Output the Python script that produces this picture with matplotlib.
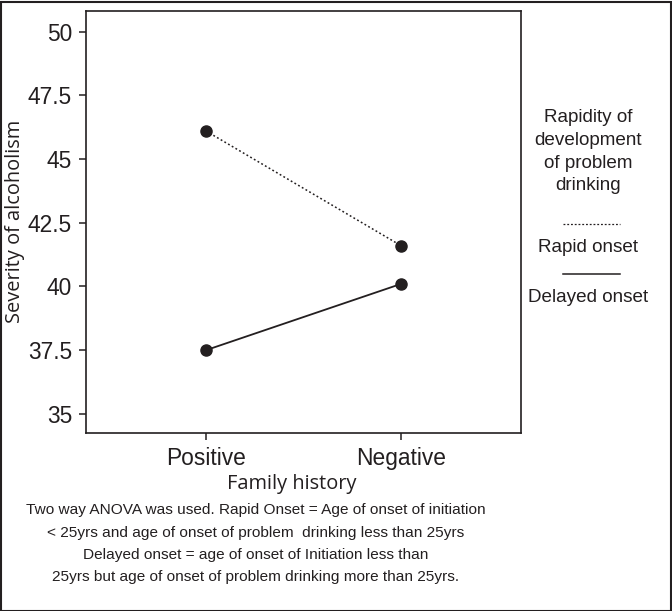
import matplotlib
matplotlib.use("Agg")
import matplotlib.pyplot as plt
from matplotlib.lines import Line2D
from matplotlib.patches import Rectangle

categories = ["Positive", "Negative"]
rapid_onset = [46.1, 41.6]
delayed_onset = [37.5, 40.1]
yticks = [35, 37.5, 40, 42.5, 45, 47.5, 50]
ytick_labels = ["35", "37.5", "40", "42.5", "45", "47.5", "50"]

INK = "#231f20"
W, H = 672, 611
fig = plt.figure(figsize=(W / 100, H / 100), dpi=100)
ax = fig.add_axes([86 / W, 1 - 433 / H, (521 - 86) / W, (433 - 10.7) / H])

x = list(range(len(categories)))
ax.plot(x, rapid_onset, linestyle=(0, (1.2, 1.6)), color=INK, lw=1.1,
        marker="o", markersize=8, markerfacecolor=INK, markeredgecolor=INK)
ax.plot(x, delayed_onset, linestyle="-", color=INK, lw=1.3,
        marker="o", markersize=8, markerfacecolor=INK, markeredgecolor=INK)

ax.set_xlim(-0.615, 1.615)
ax.set_ylim(34.25, 50.82)
ax.set_yticks(yticks)
ax.set_yticklabels(ytick_labels)
ax.set_xticks(x)
ax.set_xticklabels(categories)
for s in ax.spines.values():
    s.set_color(INK)
    s.set_linewidth(1.2)
ax.tick_params(axis="both", direction="out", length=5, width=1.1, color=INK,
               labelcolor=INK, labelsize=16.4, pad=5)
for lab in ax.get_xticklabels() + ax.get_yticklabels():
    lab.set_fontfamily("Liberation Sans")

ax.set_ylabel("Severity of alcoholism", fontsize=14.4, family="Open Sans",
              color=INK, labelpad=4)
ax.yaxis.set_label_coords(-0.14, 0.5)

fig.text(292 / W, 1 - 484 / H, "Family history", ha="center", va="center",
         fontsize=14.4, family="Open Sans", color=INK)

# legend block on right
legend_lines = ["Rapidity of", "development", "of problem", "drinking"]
for i, t in enumerate(legend_lines):
    fig.text(588 / W, 1 - (118 + i * 22.5) / H, t, ha="center", va="center",
             fontsize=13.6, family="Liberation Sans", color=INK)
fig.add_artist(Line2D([563 / W, 620 / W], [1 - 224 / H, 1 - 224 / H],
                      transform=fig.transFigure, color=INK, lw=0.9,
                      linestyle=(0, (1.5, 1.5))))
fig.text(588 / W, 1 - 247 / H, "Rapid onset", ha="center", va="center",
         fontsize=13.6, family="Liberation Sans", color=INK)
fig.add_artist(Line2D([563 / W, 620 / W], [1 - 274 / H, 1 - 274 / H],
                      transform=fig.transFigure, color=INK, lw=1.1))
fig.text(588 / W, 1 - 297 / H, "Delayed onset", ha="center", va="center",
         fontsize=13.6, family="Liberation Sans", color=INK)

notes = [
    "Two way ANOVA was used. Rapid Onset = Age of onset of initiation",
    "< 25yrs and age of onset of problem  drinking less than 25yrs",
    "Delayed onset = age of onset of Initiation less than",
    "25yrs but age of onset of problem drinking more than 25yrs.",
]
note_y = [510, 533, 555, 577]
for t, yy in zip(notes, note_y):
    fig.text(256 / W, 1 - yy / H, t, ha="center", va="center",
             fontsize=11.1, family="Liberation Sans", color=INK)

fig.add_artist(Rectangle((0.5 / W, 0.5 / H), (W - 2) / W, (H - 2) / H,
                         transform=fig.transFigure, fill=False,
                         edgecolor=INK, lw=1.5))

fig.savefig("out.png", dpi=100)
